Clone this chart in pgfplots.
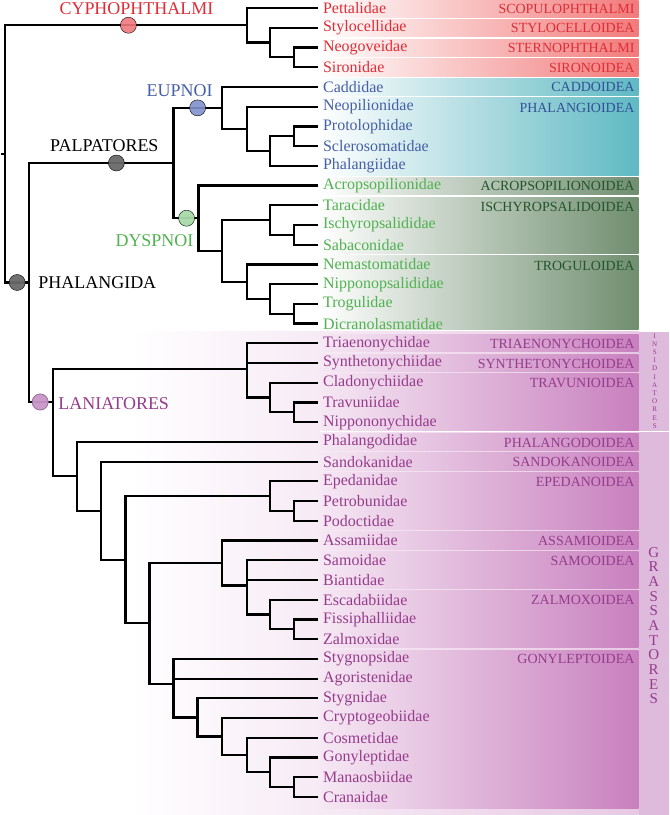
\documentclass[border=0pt]{standalone}
\usepackage{pgfplots}
\pgfplotsset{compat=1.18}
\usepackage{fontspec}
\setmainfont{Liberation Serif}
\definecolor{cred}{RGB}{222,45,55}
\definecolor{cblue}{RGB}{70,95,165}
\definecolor{cbluedk}{RGB}{50,80,150}
\definecolor{cgreen}{RGB}{80,178,80}
\definecolor{cgreendk}{RGB}{35,85,45}
\definecolor{cpurp}{RGB}{150,60,140}
\definecolor{boxred}{RGB}{242,122,122}
\definecolor{boxteal}{RGB}{95,185,195}
\definecolor{boxgreen}{RGB}{112,142,112}
\definecolor{boxpink}{RGB}{200,128,190}
\definecolor{boxpinkL}{RGB}{246,232,244}
\definecolor{lanbg}{RGB}{232,200,228}
\definecolor{strip}{RGB}{222,186,220}
\newcommand{\famname}[3]{\node[anchor=west,text=#3,inner sep=0pt] at (axis cs:321,#1) {#2};}
\newcommand{\supname}[3]{\node[anchor=east,text=#3,inner sep=0pt,font=\fontsize{14}{16}\selectfont] at (axis cs:632,#1) {#2};}
\begin{document}
\begin{tikzpicture}
\begin{axis}[width=666bp, height=815bp, scale only axis,
  xmin=0, xmax=666, ymin=0, ymax=815, y dir=reverse,
  axis lines=none, clip=false,
  tree/.style={black, line width=2.2bp, line join=miter, mark=none},
  bx/.style={draw=none, mark=none}]
% ---- Laniatores background
\addplot[bx, left color=white, right color=lanbg] coordinates {(130,333) (636,333) (636,815) (130,815)} -- cycle;
\addplot[bx, fill=strip] coordinates {(636,333) (666,333) (666,815) (636,815)} -- cycle;
\addplot[white, line width=1.5bp, mark=none] coordinates {(318,432.5) (666,432.5)};
% ---- Cyphophthalmi boxes
\addplot[bx, left color=white, right color=boxred] coordinates {(318,2) (636,2) (636,19) (318,19)} -- cycle;
\addplot[bx, left color=white, right color=boxred] coordinates {(318,21.5) (636,21.5) (636,38.5) (318,38.5)} -- cycle;
\addplot[bx, left color=white, right color=boxred] coordinates {(318,41.2) (636,41.2) (636,58.2) (318,58.2)} -- cycle;
\addplot[bx, left color=white, right color=boxred] coordinates {(318,60.8) (636,60.8) (636,78) (318,78)} -- cycle;
% ---- Eupnoi boxes
\addplot[bx, left color=white, right color=boxteal] coordinates {(318,80.3) (636,80.3) (636,97.5) (318,97.5)} -- cycle;
\addplot[bx, left color=white, right color=boxteal] coordinates {(318,99.7) (636,99.7) (636,177) (318,177)} -- cycle;
% ---- Dyspnoi boxes
\addplot[bx, left color=white, right color=boxgreen] coordinates {(318,179) (636,179) (636,196.5) (318,196.5)} -- cycle;
\addplot[bx, left color=white, right color=boxgreen] coordinates {(318,198.8) (636,198.8) (636,255) (318,255)} -- cycle;
\addplot[bx, left color=white, right color=boxgreen] coordinates {(318,257.2) (636,257.2) (636,331) (318,331)} -- cycle;
% ---- Laniatores boxes
\addplot[bx, left color=boxpinkL, right color=boxpink] coordinates {(318,335.5) (636,335.5) (636,353) (318,353)} -- cycle;
\addplot[bx, left color=boxpinkL, right color=boxpink] coordinates {(318,355.2) (636,355.2) (636,373) (318,373)} -- cycle;
\addplot[bx, left color=boxpinkL, right color=boxpink] coordinates {(318,375) (636,375) (636,431.5) (318,431.5)} -- cycle;
\addplot[bx, left color=boxpinkL, right color=boxpink] coordinates {(318,434) (636,434) (636,451.5) (318,451.5)} -- cycle;
\addplot[bx, left color=boxpinkL, right color=boxpink] coordinates {(318,453.7) (636,453.7) (636,471.5) (318,471.5)} -- cycle;
\addplot[bx, left color=boxpinkL, right color=boxpink] coordinates {(318,473.5) (636,473.5) (636,530) (318,530)} -- cycle;
\addplot[bx, left color=boxpinkL, right color=boxpink] coordinates {(318,532) (636,532) (636,550) (318,550)} -- cycle;
\addplot[bx, left color=boxpinkL, right color=boxpink] coordinates {(318,552) (636,552) (636,589) (318,589)} -- cycle;
\addplot[bx, left color=boxpinkL, right color=boxpink] coordinates {(318,591) (636,591) (636,648) (318,648)} -- cycle;
\addplot[bx, left color=boxpinkL, right color=boxpink] coordinates {(318,650.5) (636,650.5) (636,809) (318,809)} -- cycle;
% ---- tree
\addplot[tree] coordinates {(0,155.5) (4,155.5)};
\addplot[tree] coordinates {(245,27.2) (4,27.2) (4,283.8) (28,283.8)};
% Cyphophthalmi
\addplot[tree] coordinates {(316,49.4) (292,49.4) (292,69.0) (316,69.0)};
\addplot[tree] coordinates {(316,29.7) (268,29.7) (268,59.2) (292,59.2)};
\addplot[tree] coordinates {(316,10) (245,10) (245,44.5) (268,44.5)};
% Phalangida / Palpatores
\addplot[tree] coordinates {(172,164.6) (28,164.6) (28,403) (52,403)};
\addplot[tree] coordinates {(220,109.6) (172,109.6) (172,219.7) (197,219.7)};
% Eupnoi
\addplot[tree] coordinates {(316,128.1) (292,128.1) (292,147.7) (316,147.7)};
\addplot[tree] coordinates {(292,137.9) (268,137.9) (268,167.4) (316,167.4)};
\addplot[tree] coordinates {(316,108.4) (245,108.4) (245,152.6) (268,152.6)};
\addplot[tree] coordinates {(316,88.7) (220,88.7) (220,130.5) (245,130.5)};
% Dyspnoi
\addplot[tree] coordinates {(316,226.4) (292,226.4) (292,246.1) (316,246.1)};
\addplot[tree] coordinates {(316,206.8) (268,206.8) (268,236.3) (292,236.3)};
\addplot[tree] coordinates {(316,305.1) (292,305.1) (292,324.8) (316,324.8)};
\addplot[tree] coordinates {(316,285.5) (268,285.5) (268,315.0) (292,315.0)};
\addplot[tree] coordinates {(316,265.8) (245,265.8) (245,300.2) (268,300.2)};
\addplot[tree] coordinates {(268,221.5) (220,221.5) (220,283.0) (245,283.0)};
\addplot[tree] coordinates {(316,187.1) (197,187.1) (197,252.2) (220,252.2)};
% Laniatores
\addplot[tree] coordinates {(245,370) (52,370) (52,477.2) (76,477.2)};
\addplot[tree] coordinates {(316,403.5) (292,403.5) (292,423.2) (316,423.2)};
\addplot[tree] coordinates {(316,383.8) (268,383.8) (268,413.3) (292,413.3)};
\addplot[tree] coordinates {(316,344.5) (245,344.5) (245,398.6) (268,398.6)};
\addplot[tree] coordinates {(245,364.2) (316,364.2)};
% Grassatores
\addplot[tree] coordinates {(316,442.9) (76,442.9) (76,511.5) (100,511.5)};
\addplot[tree] coordinates {(316,462.5) (100,462.5) (100,560.4) (124,560.4)};
\addplot[tree] coordinates {(268,497.0) (124,497.0) (124,623.8) (148,623.8)};
\addplot[tree] coordinates {(316,501.9) (292,501.9) (292,521.6) (316,521.6)};
\addplot[tree] coordinates {(316,482.2) (268,482.2) (268,511.8) (292,511.8)};
\addplot[tree] coordinates {(220,563.6) (148,563.6) (148,684) (172,684)};
\addplot[tree] coordinates {(316,541.2) (220,541.2) (220,586) (245,586)};
\addplot[tree] coordinates {(316,560.9) (245,560.9) (245,615.0) (268,615.0)};
\addplot[tree] coordinates {(245,580.6) (316,580.6)};
\addplot[tree] coordinates {(316,600.3) (268,600.3) (268,629.8) (292,629.8)};
\addplot[tree] coordinates {(316,619.9) (292,619.9) (292,639.6) (316,639.6)};
\addplot[tree] coordinates {(316,659.3) (172,659.3) (172,717.7) (196,717.7)};
\addplot[tree] coordinates {(172,679.0) (316,679.0)};
\addplot[tree] coordinates {(316,698.6) (196,698.6) (196,736.7) (220,736.7)};
\addplot[tree] coordinates {(316,718.3) (220,718.3) (220,755.2) (245,755.2)};
\addplot[tree] coordinates {(316,738.0) (245,738.0) (245,772.4) (268,772.4)};
\addplot[tree] coordinates {(316,757.7) (268,757.7) (268,787.2) (292,787.2)};
\addplot[tree] coordinates {(316,777.3) (292,777.3) (292,797.0) (316,797.0)};
% ---- node circles
\addplot[only marks, mark=*, mark size=8bp, mark options={draw=none, fill={rgb,255:red,240;green,120;blue,125}, fill opacity=0.9}] coordinates {(127,27.2)};
\addplot[only marks, mark=*, mark size=8bp, mark options={draw=none, fill={rgb,255:red,105;green,105;blue,105}, fill opacity=0.95}] coordinates {(115,164.6) (16,283.8)};
\addplot[only marks, mark=*, mark size=8bp, mark options={draw=none, fill={rgb,255:red,128;green,145;blue,205}, fill opacity=0.9}] coordinates {(196,109.6)};
\addplot[only marks, mark=*, mark size=8bp, mark options={draw=none, fill={rgb,255:red,168;green,218;blue,168}, fill opacity=0.95}] coordinates {(185,219.7)};
\addplot[only marks, mark=*, mark size=8bp, mark options={draw={rgb,255:red,150;green,110;blue,150}, line width=0.8bp, fill={rgb,255:red,200;green,150;blue,200}, fill opacity=0.95}] coordinates {(39,403)};
% ---- clade labels
\begin{scope}[every node/.style={inner sep=0pt, font=\fontsize{18}{20}\selectfont}]
\node[text=cred] at (axis cs:135,11) {CYPHOPHTHALMI};
\node[text=cblue] at (axis cs:178,92) {EUPNOI};
\node[text=black] at (axis cs:103,147) {PALPATORES};
\node[text=cgreen] at (axis cs:153,242) {DYSPNOI};
\node[text=black, anchor=west] at (axis cs:37,284) {PHALANGIDA};
\node[text=cpurp, anchor=west] at (axis cs:57,405) {LANIATORES};
\end{scope}
% ---- family names
\begin{scope}[every node/.style={font=\fontsize{16}{18}\selectfont}]
\famname{10.0}{Pettalidae}{cred}
\famname{29.7}{Stylocellidae}{cred}
\famname{49.4}{Neogoveidae}{cred}
\famname{69.0}{Sironidae}{cred}
\famname{88.7}{Caddidae}{cblue}
\famname{108.4}{Neopilionidae}{cblue}
\famname{128.1}{Protolophidae}{cblue}
\famname{147.7}{Sclerosomatidae}{cblue}
\famname{167.4}{Phalangiidae}{cblue}
\famname{187.1}{Acropsopilionidae}{cgreen}
\famname{206.8}{Taracidae}{cgreen}
\famname{226.4}{Ischyropsalididae}{cgreen}
\famname{246.1}{Sabaconidae}{cgreen}
\famname{265.8}{Nemastomatidae}{cgreen}
\famname{285.5}{Nipponopsalididae}{cgreen}
\famname{305.1}{Trogulidae}{cgreen}
\famname{324.8}{Dicranolasmatidae}{cgreen}
\famname{344.5}{Triaenonychidae}{cpurp}
\famname{364.2}{Synthetonychiidae}{cpurp}
\famname{383.8}{Cladonychiidae}{cpurp}
\famname{403.5}{Travuniidae}{cpurp}
\famname{423.2}{Nippononychidae}{cpurp}
\famname{442.9}{Phalangodidae}{cpurp}
\famname{462.5}{Sandokanidae}{cpurp}
\famname{482.2}{Epedanidae}{cpurp}
\famname{501.9}{Petrobunidae}{cpurp}
\famname{521.6}{Podoctidae}{cpurp}
\famname{541.2}{Assamiidae}{cpurp}
\famname{560.9}{Samoidae}{cpurp}
\famname{580.6}{Biantidae}{cpurp}
\famname{600.3}{Escadabiidae}{cpurp}
\famname{619.9}{Fissiphalliidae}{cpurp}
\famname{639.6}{Zalmoxidae}{cpurp}
\famname{659.3}{Stygnopsidae}{cpurp}
\famname{679.0}{Agoristenidae}{cpurp}
\famname{698.6}{Stygnidae}{cpurp}
\famname{718.3}{Cryptogeobiidae}{cpurp}
\famname{738.0}{Cosmetidae}{cpurp}
\famname{757.7}{Gonyleptidae}{cpurp}
\famname{777.3}{Manaosbiidae}{cpurp}
\famname{797.0}{Cranaidae}{cpurp}
\end{scope}
% ---- superfamily labels
\supname{10.5}{SCOPULOPHTHALMI}{cred}
\supname{30.2}{STYLOCELLOIDEA}{cred}
\supname{49.9}{STERNOPHTHALMI}{cred}
\supname{69.5}{SIRONOIDEA}{cred}
\supname{89.2}{CADDOIDEA}{cbluedk}
\supname{110}{PHALANGIOIDEA}{cbluedk}
\supname{187.6}{ACROPSOPILIONOIDEA}{cgreendk}
\supname{208}{ISCHYROPSALIDOIDEA}{cgreendk}
\supname{267}{TROGULOIDEA}{cgreendk}
\supname{345}{TRIAENONYCHOIDEA}{cpurp}
\supname{364.7}{SYNTHETONYCHOIDEA}{cpurp}
\supname{384.3}{TRAVUNIOIDEA}{cpurp}
\supname{443.4}{PHALANGODOIDEA}{cpurp}
\supname{463}{SANDOKANOIDEA}{cpurp}
\supname{482.7}{EPEDANOIDEA}{cpurp}
\supname{541.7}{ASSAMIOIDEA}{cpurp}
\supname{561.4}{SAMOOIDEA}{cpurp}
\supname{600.8}{ZALMOXOIDEA}{cpurp}
\supname{659.8}{GONYLEPTOIDEA}{cpurp}
% ---- vertical group labels
\node[text=cpurp, align=center, inner sep=0pt, font=\fontsize{7}{8.2}\selectfont] at (axis cs:652,382) {I\\N\\S\\I\\D\\I\\A\\T\\O\\R\\E\\S};
\node[text=cpurp, align=center, inner sep=0pt, font=\fontsize{15}{14.7}\selectfont] at (axis cs:651,626) {G\\R\\A\\S\\S\\A\\T\\O\\R\\E\\S};
\end{axis}
\end{tikzpicture}
\end{document}
